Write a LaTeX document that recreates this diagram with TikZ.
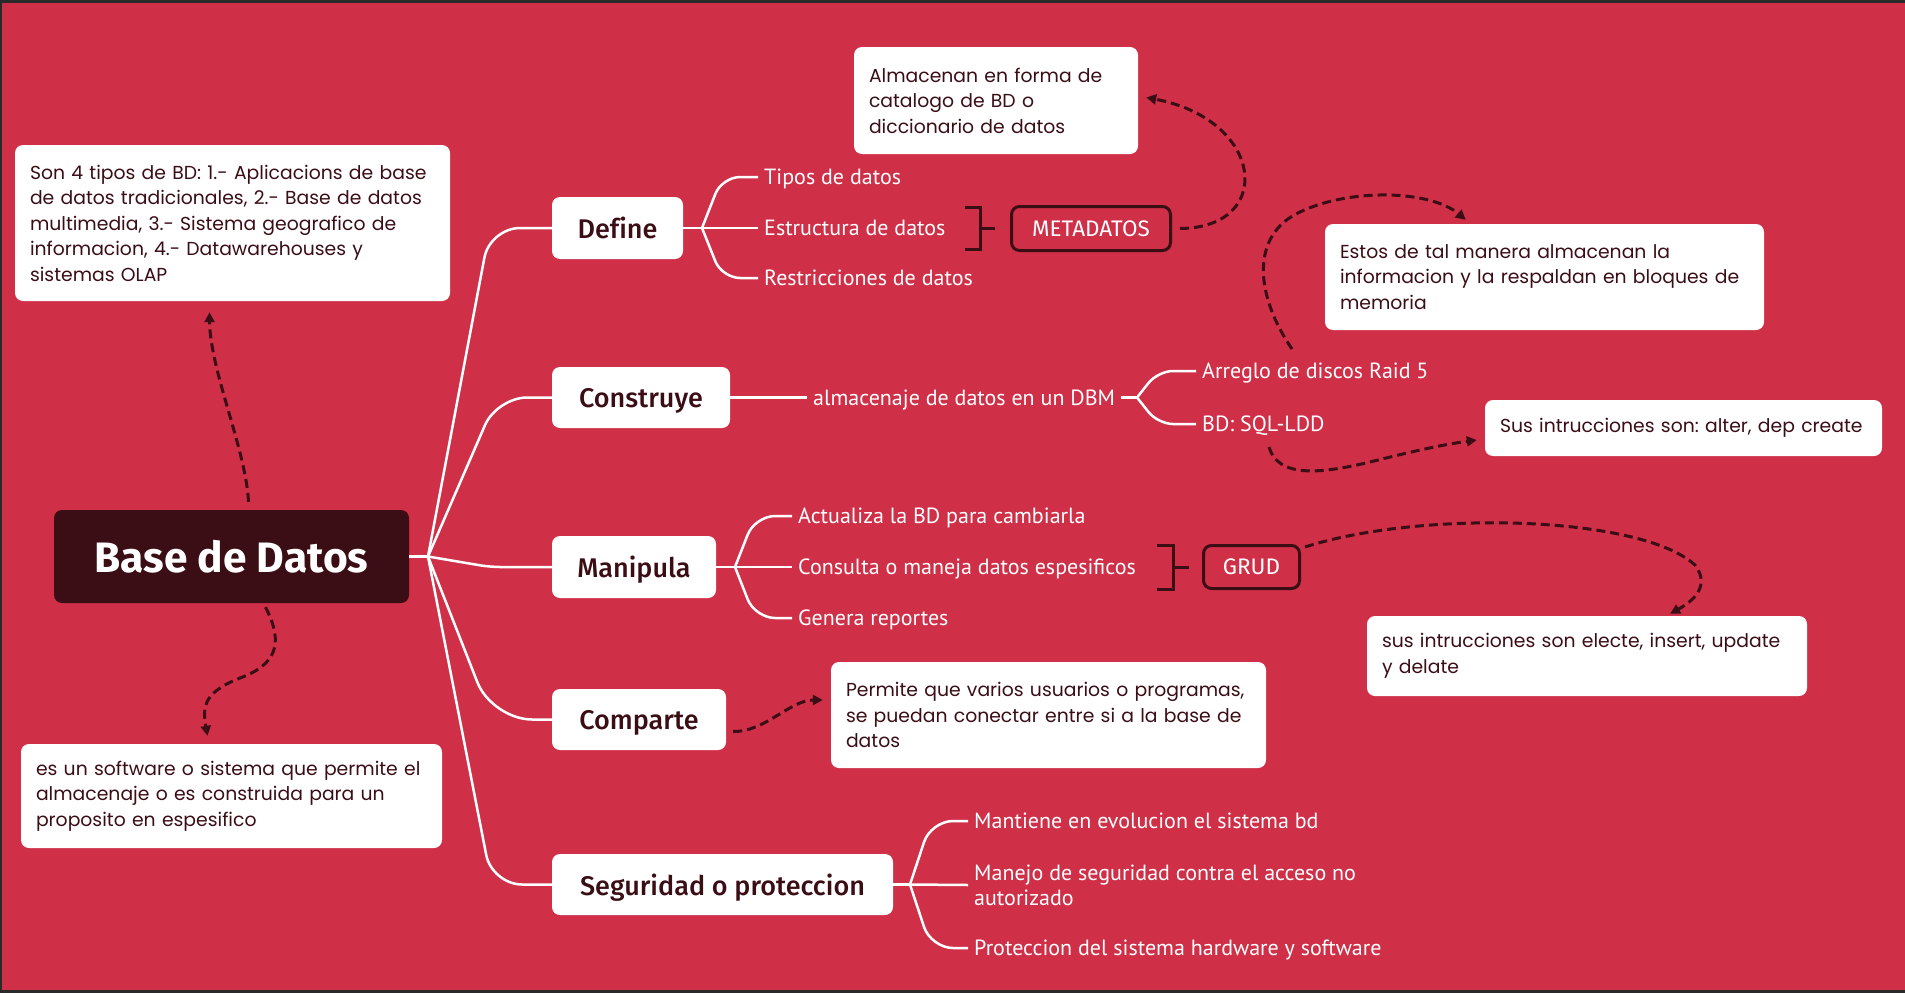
\documentclass[tikz,border=0pt]{standalone}
\usepackage{fontspec}
\setmainfont{Poppins}
\newfontfamily\headfont{Fira Sans Medium}[Ligatures=NoCommon]
\newfontfamily\headbold{Fira Sans}
\newfontfamily\labfont{PT Sans}
\usetikzlibrary{arrows.meta,calc}
\definecolor{bgred}{HTML}{CF2F47}
\definecolor{darkred}{HTML}{3B0E16}
\definecolor{framegray}{HTML}{2A2A2A}
\frenchspacing
\begin{document}
\frenchspacing
\begin{tikzpicture}[x=1pt,y=-1pt,
  notebox/.style={fill=white, rounded corners=8pt, text=darkred, align=left, inner xsep=15pt, inner ysep=0pt, font=\fontsize{18.8}{25.5}\selectfont},
  topic/.style={fill=white, rounded corners=8pt, text=darkred, inner sep=0pt, text depth=0pt, font=\headfont\fontsize{27}{30}\selectfont},
  lab/.style={text=white, anchor=west, inner xsep=6pt, inner ysep=0pt, text depth=0pt, align=left, font=\labfont\fontsize{22}{25}\selectfont},
  tagbox/.style={draw=darkred, line width=3pt, rounded corners=8pt, text=white, inner sep=0pt, text depth=0pt, font=\headbold\fontsize{22.5}{25}\selectfont},
  conn/.style={draw=white, line width=2.5pt},
  dashar/.style={draw=darkred, line width=3pt, dash pattern=on 9pt off 5pt, -{Triangle[length=10pt,width=10pt]}},
  brk/.style={draw=darkred, line width=3pt}
]
% background and frame
\fill[framegray] (0,0) rectangle (1905,993);
\fill[bgred] (2,3) rectangle (1905,990);
\useasboundingbox (0,0) rectangle (1905,993);

% central node
\node[fill=darkred, rounded corners=8pt, text=white, inner sep=0pt, minimum width=355pt, minimum height=93pt, font=\headbold\bfseries\fontsize{42.5}{46}\selectfont] (base) at (231.5,556.5) {Base de Datos};

% topics
\node[topic, minimum width=131pt, minimum height=62pt] (define) at (617.5,228) {Define};
\node[topic, minimum width=178pt, minimum height=61pt] (construye) at (641,397.5) {Construye};
\node[topic, minimum width=164pt, minimum height=62pt] (manipula) at (634,567) {Manipula};
\node[topic, minimum width=174pt, minimum height=61pt] (comparte) at (639,719.5) {Comparte};
\node[topic, minimum width=341pt, minimum height=61pt] (seguridad) at (722.5,884.5) {Seguridad o proteccion};

% notes
\node[notebox, minimum width=435pt, minimum height=156pt, text width=405pt] (n1) at (232.5,223) {Son 4 tipos de BD: 1.- Aplicacions de base\\de datos tradicionales, 2.- Base de datos\\multimedia, 3.- Sistema geografico de\\informacion, 4.- Datawarehouses y\\sistemas OLAP};
\node[notebox, minimum width=284pt, minimum height=107pt, text width=254pt] (n2) at (996,100.5) {Almacenan en forma de\\catalogo de BD o\\diccionario de datos};
\node[notebox, minimum width=439pt, minimum height=106pt, text width=409pt] (n3) at (1544.5,277) {Estos de tal manera almacenan la\\informacion y la respaldan en bloques de\\memoria};
\node[notebox, minimum width=397pt, minimum height=56pt, text width=367pt] (n4) at (1683.5,428) {Sus intrucciones son: alter, dep create};
\node[notebox, minimum width=440pt, minimum height=80pt, text width=410pt] (n5) at (1587,656) {sus intrucciones son electe, insert, update\\y delate};
\node[notebox, minimum width=435pt, minimum height=106pt, text width=405pt] (n6) at (1048.5,715) {Permite que varios usuarios o programas,\\se puedan conectar entre si a la base de\\datos};
\node[notebox, minimum width=421pt, minimum height=104pt, text width=391pt] (n7) at (231.5,796) {es un software o sistema que permite el\\almacenaje o es construida para un\\proposito en espesifico};

% tags
\node[tagbox, minimum width=159pt, minimum height=44pt] (meta) at (1091,228.5) {METADATOS};
\node[tagbox, minimum width=96pt, minimum height=43pt] (grud) at (1251.5,567) {GRUD};

% labels
\node[lab] (tipos) at (758,177) {Tipos de datos};
\node[lab] (estructura) at (758,228) {Estructura de datos};
\node[lab] (restric) at (758,278) {Restricciones de datos};
\node[lab] (almac) at (807,397.5) {almacenaje de datos en un DBM};
\node[lab] (arreglo) at (1196,371) {Arreglo de discos Raid 5};
\node[lab] (sql) at (1196,424) {BD: SQL-LDD};
\node[lab] (actualiza) at (792,516) {Actualiza la BD para cambiarla};
\node[lab] (consulta) at (792,567) {Consulta o maneja datos espesificos};
\node[lab] (genera) at (792,618) {Genera reportes};
\node[lab] (mantiene) at (968,821) {Mantiene en evolucion el sistema bd};
\node[lab] (manejo) at (968,885) {Manejo de seguridad contra el acceso no\\autorizado};
\node[lab] (protec) at (968,948) {Proteccion del sistema hardware y software};

% main connectors
\coordinate (hub) at (428,556.5);
\draw[conn] (base.east) -- (hub);
\draw[conn, rounded corners=30pt] (hub) -- (490,228) -- (define.west);
\draw[conn, rounded corners=30pt] (hub) -- (497,397.5) -- (construye.west);
\draw[conn, rounded corners=10pt] (hub) -- (490,567) -- (manipula.west);
\draw[conn, rounded corners=40pt] (hub) -- (492,719.5) -- (comparte.west);
\draw[conn, rounded corners=30pt] (hub) -- (492,884.5) -- (seguridad.west);

% define branch
\coordinate (bdef) at (702,228);
\draw[conn] (define.east) -- (bdef);
\draw[conn, rounded corners=18pt] (bdef) -- (722,177) -- (tipos.west);
\draw[conn] (bdef) -- (estructura.west);
\draw[conn, rounded corners=18pt] (bdef) -- (722,278) -- (restric.west);

% construye branch
\coordinate (bcon) at (1137,397.5);
\draw[conn] (construye.east) -- (almac.west);
\draw[conn] (almac.east) -- (bcon);
\draw[conn, rounded corners=15pt] (bcon) -- (1158,371) -- (arreglo.west);
\draw[conn, rounded corners=15pt] (bcon) -- (1158,424) -- (sql.west);

% manipula branch
\coordinate (bman) at (735,567);
\draw[conn] (manipula.east) -- (bman);
\draw[conn, rounded corners=20pt] (bman) -- (755,516) -- (actualiza.west);
\draw[conn] (bman) -- (consulta.west);
\draw[conn, rounded corners=20pt] (bman) -- (755,618) -- (genera.west);

% seguridad branch
\coordinate (bseg) at (910,884.5);
\draw[conn] (seguridad.east) -- (bseg);
\draw[conn, rounded corners=22pt] (bseg) -- (931,821) -- (mantiene.west);
\draw[conn] (bseg) -- (manejo.west);
\draw[conn, rounded corners=22pt] (bseg) -- (931,948) -- (protec.west);

% brackets
\draw[brk] (965,207) -- (980,207) -- (980,249) -- (965,249);
\draw[brk] (980,228) -- (995,228);
\draw[brk] (1157,545.5) -- (1173,545.5) -- (1173,589) -- (1157,589);
\draw[brk] (1173,567) -- (1189,567);

% dashed relations
\draw[dashar] ($(meta.east)+(8,0)$) .. controls (1275,228) and (1265,120) .. ($(n2.east)+(8,-3)$);
\draw[dashar] ($(arreglo.north west)+(96,-14)$) .. controls (1255,295) and (1250,235) .. (1300,212) .. controls (1350,188) and (1430,190) .. ($(n3.north west)+(141,-4)$);
\draw[dashar] ($(sql.south west)+(73,15)$) .. controls (1278,478) and (1320,474) .. (1370,462) .. controls (1410,452) and (1440,445) .. ($(n4.west)+(-8,12)$);
\draw[dashar] ($(grud.north east)+(4,3)$) .. controls (1420,510) and (1640,515) .. (1695,565) .. controls (1710,585) and (1695,600) .. ($(n5.north)+(83,-2)$);
\draw[dashar] ($(comparte.east)+(7,12)$) .. controls (765,732) and (790,700) .. ($(n6.west)+(-8,-15)$);
\draw[dashar] ($(base.north)+(17,-8)$) .. controls (246,450) and (210,370) .. ($(n1.south)+(-23,11)$);
\draw[dashar] ($(base.south)+(34,4)$) .. controls (285,645) and (275,665) .. (240,678) .. controls (205,692) and (202,705) .. ($(n7.north)+(-24,-8)$);
\end{tikzpicture}
\end{document}
